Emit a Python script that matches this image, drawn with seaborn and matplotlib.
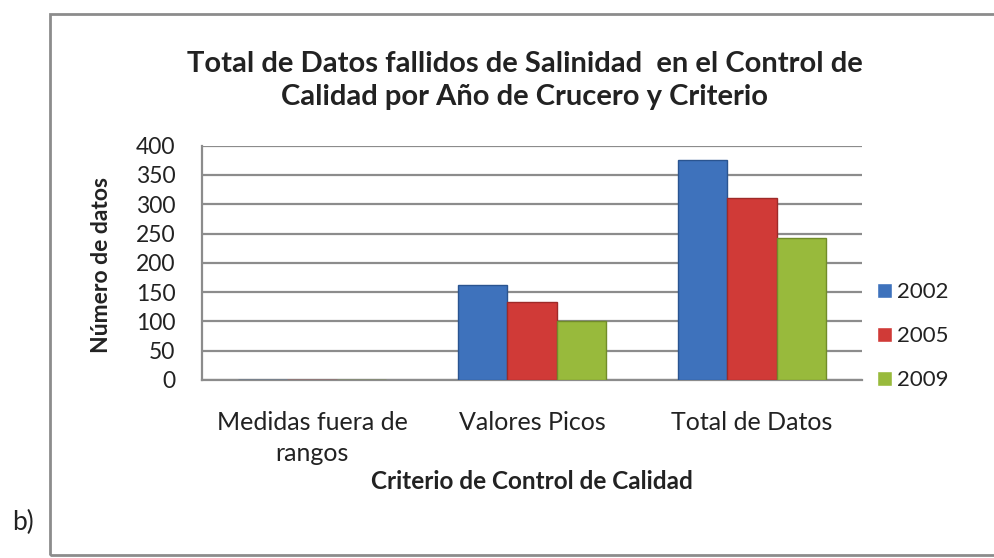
import matplotlib.pyplot as plt
import seaborn as sns
import pandas as pd
from matplotlib.patches import Rectangle

# Data
criterios = ["Medidas fuera de\nrangos", "Valores Picos", "Total de Datos"]
anios = ["2002", "2005", "2009"]
datos_2002 = [0, 162, 375]
datos_2005 = [0, 133, 311]
datos_2009 = [0, 100, 243]

colores = ["#3E72BC", "#D03A37", "#98BA3C"]
bordes = ["#2A5490", "#9E2A28", "#718C2A"]

sns.set_style("white")
plt.rcParams['font.family'] = ['Lato', 'DejaVu Sans']

data = pd.DataFrame({
    "criterio": criterios * 3,
    "anio": [a for a in anios for _ in criterios],
    "valor": datos_2002 + datos_2005 + datos_2009,
})

fig = plt.figure(figsize=(9.94, 5.58), dpi=100)
ax = fig.add_axes([0.2032, 0.319, 0.664, 0.42])

sns.barplot(x="criterio", y="valor", hue="anio", data=data,
            palette=colores, width=0.67, saturation=1, ax=ax, zorder=3)

for cont, ec in zip(ax.containers, bordes):
    for bar in cont:
        bar.set_edgecolor(ec)
        bar.set_linewidth(1.0)

ax.set_ylim(0, 400)
ax.set_yticks(range(0, 401, 50))
ax.yaxis.grid(True, color="#8c8c8c", linewidth=1.6, zorder=0)
ax.set_axisbelow(True)
for s in ["top", "right"]:
    ax.spines[s].set_visible(False)
ax.spines["left"].set_color("#8c8c8c")
ax.spines["left"].set_linewidth(1.6)
ax.spines["bottom"].set_color("#8c8c8c")
ax.spines["bottom"].set_linewidth(1.6)
ax.tick_params(axis="y", length=7, width=1.6, color="#8c8c8c",
               labelsize=16.5, labelcolor="#222222", pad=12)
ax.tick_params(axis="x", length=0, labelsize=18, labelcolor="#222222", pad=22)
for t in ax.get_xticklabels():
    t.set_linespacing(1.45)

ax.set_xlabel("Criterio de Control de Calidad", fontsize=17.5, fontweight="bold",
              color="#222222")
ax.xaxis.set_label_coords(0.5, -0.385)
ax.set_ylabel("Número de datos", fontsize=16.5, fontweight="bold",
              color="#222222")
ax.yaxis.set_label_coords(-0.137, 0.49)

fig.text(0.528, 0.856, "Total de Datos fallidos de Salinidad  en el Control de\n"
         "Calidad por Año de Crucero y Criterio", ha="center", va="center",
         fontsize=21, fontweight="bold", color="#222222", linespacing=1.3)

leg = ax.legend(loc="center left", bbox_to_anchor=(1.022, 0.186), frameon=False,
                fontsize=16, handlelength=0.7, handleheight=0.7,
                handletextpad=0.2, labelspacing=1.08, borderpad=0,
                borderaxespad=0)
for t in leg.get_texts():
    t.set_color("#222222")

# outer frame and panel letter
fig.add_artist(Rectangle((50 / 994, 1 - 555 / 558), 960 / 994, 541 / 558,
                         transform=fig.transFigure, fill=False,
                         edgecolor="#8c8c8c", linewidth=2))
fig.text(12 / 994, 1 - 522 / 558, "b)", fontsize=19, color="#222222", va="center")

fig.savefig("out.png", dpi=100)
